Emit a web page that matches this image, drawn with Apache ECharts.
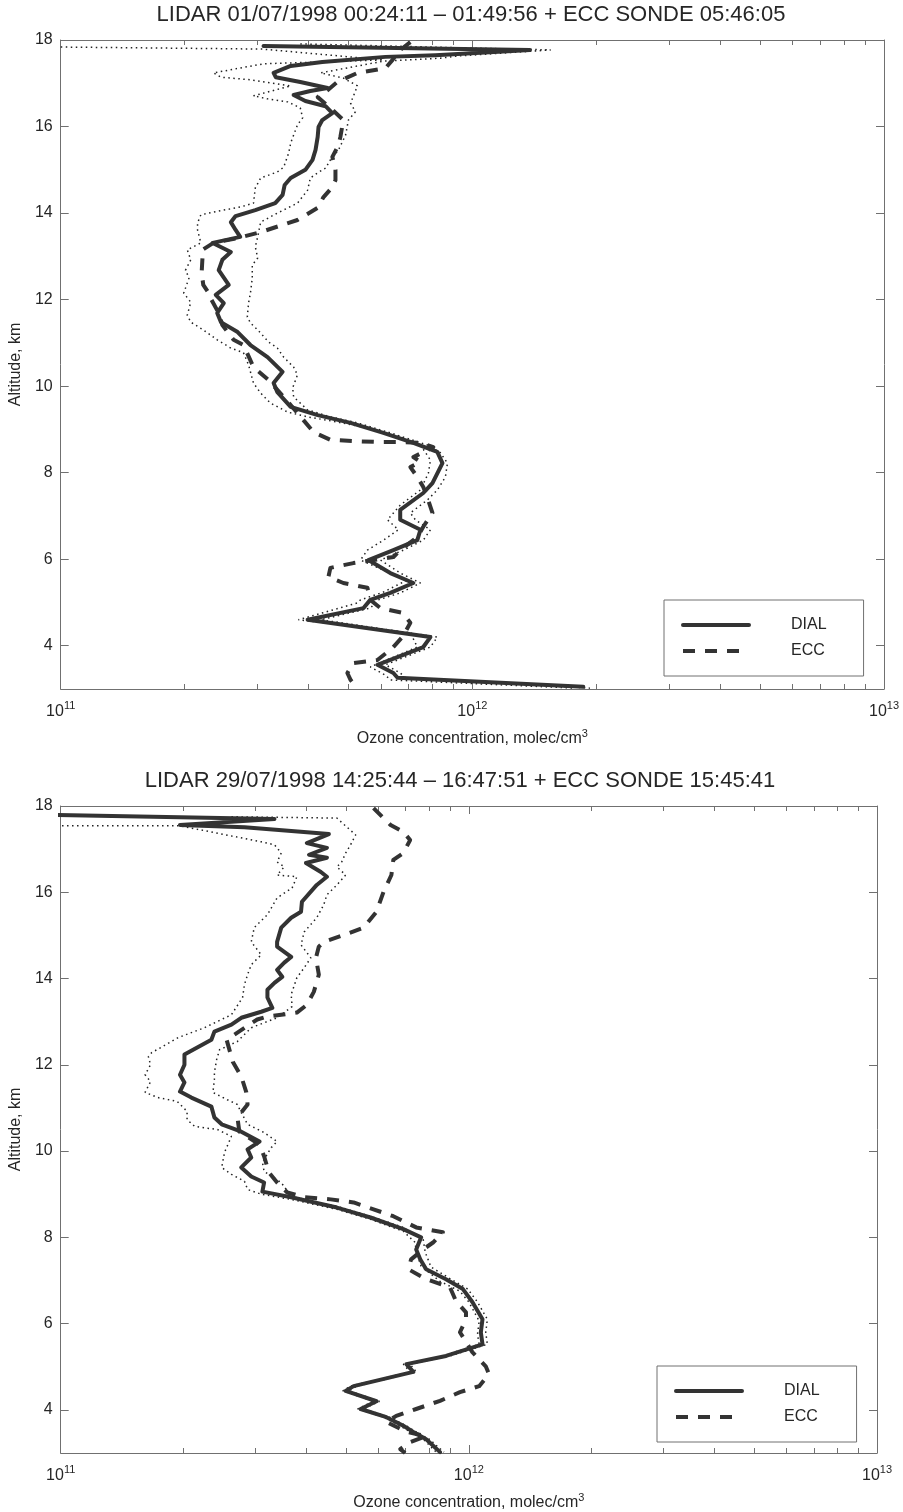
<!DOCTYPE html>
<html>
<head>
<meta charset="utf-8">
<title>Ozone profiles: DIAL lidar vs ECC sonde</title>
<script src="https://cdn.jsdelivr.net/npm/echarts@6/dist/echarts.min.js"></script>
<style>
  html, body { margin: 0; padding: 0; background: #ffffff; }
  #chart { width: 903px; height: 1512px; }
</style>
</head>
<body>
<div id="chart"></div>
<script>
// ---- text ----
const titles = [
  'LIDAR 01/07/1998 00:24:11 \u2013 01:49:56 + ECC SONDE 05:46:05',
  'LIDAR 29/07/1998 14:25:44 \u2013 16:47:51 + ECC SONDE 15:45:41'
];
const legendNames = ['DIAL', 'ECC'];
const altitudeTicks = [4, 6, 8, 10, 12, 14, 16, 18];
const decadeExponents = [11, 12];
const decadeMantissas = [2, 3, 4, 5, 6, 7, 8, 9];

// ---- profiles: [ozone concentration (molec/cm^3), altitude (km)] ----
// 01/07/1998
const dial1 = [[3.11e11,17.86],[1.38e12,17.77],[8.13e11,17.65],[6.15e11,17.61],[4.32e11,17.49],[3.62e11,17.40],[3.29e11,17.24],[3.33e11,17.14],[3.82e11,17.03],[4.45e11,16.89],[4.04e11,16.82],[3.68e11,16.73],[3.93e11,16.59],[4.40e11,16.47],[4.57e11,16.31],[4.32e11,16.15],[4.23e11,15.99],[4.21e11,15.76],[4.16e11,15.46],[4.09e11,15.23],[3.93e11,15.00],[3.62e11,14.81],[3.50e11,14.65],[3.46e11,14.42],[3.32e11,14.23],[2.97e11,14.07],[2.66e11,13.93],[2.59e11,13.79],[2.66e11,13.61],[2.73e11,13.45],[2.34e11,13.31],[2.59e11,13.10],[2.47e11,12.92],[2.42e11,12.68],[2.56e11,12.34],[2.38e11,12.11],[2.49e11,11.92],[2.40e11,11.69],[2.45e11,11.48],[2.69e11,11.25],[2.89e11,10.95],[3.18e11,10.67],[3.46e11,10.33],[3.29e11,10.07],[3.36e11,9.86],[3.62e11,9.52],[4.21e11,9.33],[5.06e11,9.15],[6.08e11,8.92],[7.19e11,8.69],[8.22e11,8.48],[8.46e11,8.22],[8.00e11,7.76],[7.60e11,7.53],[6.68e11,7.14],[6.68e11,6.91],[7.48e11,6.68],[7.35e11,6.44],[6.43e11,6.21],[5.59e11,5.98],[6.32e11,5.68],[7.19e11,5.45],[6.32e11,5.22],[5.65e11,5.06],[5.44e11,4.87],[3.98e11,4.60],[7.91e11,4.20],[7.60e11,3.97],[5.88e11,3.56],[6.43e11,3.37],[6.58e11,3.26],[1.86e12,3.05]];
const ecc1 = [[7.07e11,17.95],[6.68e11,17.77],[6.40e11,17.54],[6.15e11,17.35],[5.26e11,17.24],[4.70e11,17.03],[4.45e11,16.84],[4.21e11,16.68],[4.52e11,16.43],[4.86e11,16.15],[4.78e11,15.76],[4.73e11,15.57],[4.57e11,15.30],[4.65e11,15.00],[4.65e11,14.76],[4.57e11,14.60],[4.35e11,14.37],[4.21e11,14.12],[3.76e11,13.84],[3.06e11,13.56],[2.69e11,13.42],[2.35e11,13.31],[2.21e11,13.15],[2.21e11,12.96],[2.20e11,12.62],[2.22e11,12.34],[2.29e11,12.15],[2.31e11,12.04],[2.42e11,11.69],[2.47e11,11.41],[2.63e11,11.07],[2.78e11,10.95],[2.94e11,10.44],[3.20e11,10.14],[3.48e11,9.75],[3.76e11,9.38],[4.11e11,8.94],[4.52e11,8.76],[5.14e11,8.73],[5.88e11,8.71],[6.58e11,8.71],[7.48e11,8.69],[8.04e11,8.59],[7.19e11,8.36],[7.48e11,8.25],[7.07e11,8.13],[7.35e11,7.90],[7.60e11,7.67],[7.78e11,7.42],[8.00e11,7.07],[7.60e11,6.75],[7.35e11,6.51],[6.68e11,6.21],[6.43e11,6.05],[5.14e11,5.91],[4.52e11,5.80],[4.47e11,5.59],[4.86e11,5.45],[5.56e11,5.34],[5.65e11,5.06],[5.98e11,4.87],[6.76e11,4.76],[7.07e11,4.53],[6.76e11,4.20],[6.40e11,3.95],[5.88e11,3.67],[5.14e11,3.60],[4.97e11,3.37],[5.06e11,3.21],[5.26e11,3.02]];
const low1 = [[0.946e11,17.84],[3.09e11,17.79],[6.08e11,17.54],[3.11e11,17.45],[2.35e11,17.24],[2.45e11,17.14],[2.89e11,17.08],[3.62e11,16.94],[2.94e11,16.71],[3.18e11,16.64],[3.56e11,16.57],[3.82e11,16.43],[3.87e11,16.20],[3.76e11,16.04],[3.62e11,15.62],[3.58e11,15.39],[3.48e11,15.06],[3.36e11,14.95],[3.06e11,14.81],[2.97e11,14.58],[2.94e11,14.23],[2.73e11,14.14],[2.49e11,14.07],[2.19e11,13.96],[2.15e11,13.77],[2.15e11,13.61],[2.19e11,13.31],[2.03e11,13.15],[2.07e11,12.92],[2.01e11,12.68],[2.05e11,12.50],[1.99e11,12.15],[2.07e11,11.94],[2.03e11,11.64],[2.07e11,11.48],[2.22e11,11.30],[2.40e11,11.07],[2.59e11,10.88],[2.78e11,10.77],[2.86e11,10.49],[2.94e11,10.07],[3.06e11,9.84],[3.23e11,9.61],[3.56e11,9.40],[3.98e11,9.29],[4.70e11,9.17],[5.56e11,9.03],[6.68e11,8.83],[7.48e11,8.64],[7.91e11,8.29],[7.82e11,7.99],[7.48e11,7.60],[6.68e11,7.25],[6.22e11,6.91],[6.61e11,6.68],[6.08e11,6.44],[5.56e11,6.21],[5.35e11,5.98],[6.08e11,5.75],[6.95e11,5.52],[6.08e11,5.24],[5.35e11,5.06],[5.26e11,4.99],[3.78e11,4.60],[7.07e11,4.30],[7.35e11,3.97],[5.65e11,3.51],[6.15e11,3.32],[6.32e11,3.21],[1.78e12,3.02]];
const high1 = [[3.82e11,17.91],[1.55e12,17.77],[9.20e11,17.63],[8.36e11,17.58],[6.08e11,17.51],[4.28e11,17.24],[4.86e11,17.12],[5.26e11,16.94],[5.06e11,16.54],[5.20e11,16.34],[5.00e11,16.15],[4.92e11,15.80],[4.73e11,15.46],[4.52e11,15.23],[4.40e11,15.04],[4.21e11,14.93],[4.04e11,14.81],[3.98e11,14.53],[3.76e11,14.23],[3.36e11,14.00],[3.06e11,13.79],[3.01e11,13.45],[2.97e11,13.22],[3.01e11,12.96],[2.92e11,12.80],[2.92e11,12.50],[2.89e11,12.15],[2.86e11,11.92],[2.84e11,11.60],[2.89e11,11.46],[3.01e11,11.30],[3.20e11,11.02],[3.36e11,10.88],[3.48e11,10.67],[3.68e11,10.44],[3.76e11,10.26],[3.66e11,9.96],[3.68e11,9.75],[3.98e11,9.45],[4.52e11,9.29],[5.26e11,9.15],[6.32e11,8.92],[7.78e11,8.64],[8.36e11,8.46],[8.70e11,8.22],[8.60e11,7.90],[8.22e11,7.60],[7.78e11,7.37],[7.07e11,7.07],[7.27e11,6.91],[7.91e11,6.68],[7.60e11,6.44],[6.80e11,6.21],[5.98e11,5.98],[6.68e11,5.68],[7.48e11,5.45],[6.68e11,5.22],[5.91e11,5.06],[5.65e11,4.87],[4.28e11,4.60],[8.22e11,4.20],[7.91e11,3.97],[6.15e11,3.56],[6.68e11,3.37],[6.88e11,3.26],[1.93e12,3.02]];

// 29/07/1998
const dial2 = [[0.9e11,17.80],[3.34e11,17.70],[1.96e11,17.56],[2.82e11,17.51],[4.54e11,17.35],[4.01e11,17.14],[4.49e11,17.03],[4.06e11,16.87],[4.49e11,16.80],[3.99e11,16.68],[4.34e11,16.47],[4.49e11,16.36],[4.24e11,16.17],[3.90e11,15.78],[3.88e11,15.55],[3.67e11,15.41],[3.47e11,15.18],[3.39e11,14.85],[3.39e11,14.74],[3.53e11,14.62],[3.67e11,14.50],[3.53e11,14.37],[3.39e11,14.20],[3.49e11,14.04],[3.34e11,13.90],[3.21e11,13.74],[3.21e11,13.56],[3.30e11,13.32],[3.10e11,13.23],[2.77e11,13.09],[2.62e11,12.93],[2.38e11,12.77],[2.34e11,12.58],[2.01e11,12.24],[2.01e11,12.00],[1.96e11,11.77],[2.01e11,11.59],[1.96e11,11.38],[2.09e11,11.24],[2.34e11,11.03],[2.38e11,10.78],[2.48e11,10.62],[2.77e11,10.45],[3.07e11,10.22],[2.87e11,10.04],[2.93e11,9.85],[2.77e11,9.62],[2.93e11,9.41],[3.15e11,9.27],[3.12e11,9.06],[3.67e11,8.93],[4.75e11,8.69],[5.74e11,8.46],[6.91e11,8.19],[7.64e11,8.00],[7.43e11,7.72],[7.60e11,7.49],[7.86e11,7.26],[8.79e11,7.03],[9.67e11,6.80],[1.02e12,6.50],[1.08e12,6.10],[1.07e12,5.80],[1.08e12,5.52],[8.79e11,5.25],[7.03e11,5.06],[7.31e11,4.88],[5.22e11,4.55],[4.99e11,4.44],[5.94e11,4.20],[5.43e11,4.02],[6.28e11,3.83],[6.91e11,3.63],[7.31e11,3.49],[7.86e11,3.32],[8.50e11,3.02]];
const ecc2 = [[5.84e11,17.95],[6.43e11,17.56],[6.91e11,17.40],[7.18e11,17.21],[6.91e11,16.91],[6.53e11,16.75],[6.46e11,16.40],[6.18e11,16.01],[5.94e11,15.55],[5.52e11,15.18],[4.94e11,15.01],[4.41e11,14.85],[4.29e11,14.74],[4.22e11,14.48],[4.29e11,14.09],[4.17e11,13.69],[4.01e11,13.39],[3.79e11,13.21],[3.47e11,13.16],[3.21e11,13.12],[3.03e11,13.05],[2.55e11,12.58],[2.64e11,12.07],[2.77e11,11.73],[2.85e11,11.36],[2.87e11,11.08],[2.71e11,10.78],[2.74e11,10.45],[3.07e11,10.15],[3.15e11,9.88],[3.21e11,9.62],[3.24e11,9.50],[3.39e11,9.27],[3.59e11,9.04],[3.95e11,8.93],[4.59e11,8.88],[5.22e11,8.81],[5.84e11,8.65],[6.53e11,8.49],[7.43e11,8.23],[8.64e11,8.12],[8.17e11,7.88],[7.73e11,7.72],[7.22e11,7.49],[7.11e11,7.26],[7.86e11,7.03],[8.99e11,6.84],[9.30e11,6.52],[9.84e11,6.26],[9.84e11,6.10],[9.51e11,5.80],[9.67e11,5.69],[1.02e12,5.34],[1.10e12,5.01],[1.12e12,4.83],[1.06e12,4.55],[9.51e11,4.41],[8.50e11,4.21],[7.43e11,4.02],[6.64e11,3.86],[6.28e11,3.72],[7.03e11,3.49],[7.86e11,3.39],[7.18e11,3.25],[6.79e11,3.09],[6.98e11,3.00]];
const low2 = [[0.9e11,17.54],[1.96e11,17.54],[3.10e11,17.17],[3.34e11,17.10],[3.47e11,16.91],[3.39e11,16.70],[3.53e11,16.59],[3.39e11,16.40],[3.79e11,16.36],[3.69e11,16.10],[3.39e11,15.87],[3.21e11,15.48],[2.98e11,15.18],[2.93e11,14.85],[3.10e11,14.55],[2.93e11,14.32],[2.87e11,14.09],[2.82e11,13.86],[2.79e11,13.56],[2.62e11,13.16],[2.25e11,12.86],[1.94e11,12.63],[1.67e11,12.28],[1.64e11,12.19],[1.66e11,12.00],[1.61e11,11.77],[1.66e11,11.61],[1.61e11,11.36],[1.73e11,11.24],[1.93e11,11.15],[2.04e11,10.92],[2.04e11,10.73],[2.13e11,10.57],[2.42e11,10.50],[2.62e11,10.34],[2.52e11,9.97],[2.48e11,9.62],[2.62e11,9.46],[2.82e11,9.30],[2.87e11,9.11],[3.10e11,9.00],[3.67e11,8.88],[4.75e11,8.65],[5.74e11,8.42],[6.91e11,8.14],[7.39e11,7.88],[7.43e11,7.65],[7.64e11,7.33],[8.50e11,6.98],[9.51e11,6.75],[1.00e12,6.50],[1.06e12,6.06],[1.05e12,5.75],[1.06e12,5.52],[8.64e11,5.25],[6.91e11,5.06],[7.18e11,4.88],[5.13e11,4.55],[4.91e11,4.44],[5.84e11,4.20],[5.34e11,4.02],[6.18e11,3.83],[6.79e11,3.63],[7.18e11,3.49],[7.73e11,3.32],[8.32e11,3.02]];
const high2 = [[2.62e11,17.75],[4.75e11,17.72],[5.28e11,17.33],[5.13e11,17.10],[4.99e11,16.91],[4.88e11,16.70],[4.75e11,16.59],[4.99e11,16.40],[4.75e11,16.17],[4.49e11,15.94],[4.41e11,15.71],[4.24e11,15.41],[3.95e11,15.08],[3.88e11,14.78],[4.10e11,14.48],[3.95e11,14.25],[3.79e11,14.02],[3.67e11,13.63],[3.69e11,13.35],[3.39e11,13.09],[2.93e11,12.86],[2.71e11,12.54],[2.45e11,12.35],[2.41e11,12.12],[2.38e11,11.82],[2.38e11,11.66],[2.36e11,11.36],[2.56e11,11.19],[2.71e11,11.08],[2.77e11,10.89],[2.87e11,10.62],[3.15e11,10.43],[3.39e11,10.22],[3.28e11,10.08],[3.12e11,9.74],[3.15e11,9.53],[3.47e11,9.27],[3.67e11,8.95],[4.75e11,8.72],[5.74e11,8.49],[6.91e11,8.23],[7.73e11,7.95],[7.82e11,7.65],[8.08e11,7.31],[9.04e11,7.03],[9.94e11,6.80],[1.05e12,6.50],[1.11e12,6.10],[1.10e12,5.80],[1.11e12,5.52],[8.99e11,5.25],[7.18e11,5.06],[7.43e11,4.88],[5.31e11,4.55],[5.08e11,4.44],[6.04e11,4.20],[5.52e11,4.02],[6.39e11,3.83],[7.03e11,3.63],[7.43e11,3.49],[8.00e11,3.32],[8.69e11,3.02]];

// ---- styling ----
const FONT = '"Liberation Sans", Arial, Helvetica, sans-serif';
const INK = '#262626';
const PEN = '#333333';
const FRAME = '#707070';

// minor ticks of the logarithmic concentration axis, in decades
const minorTickExps = [];
decadeExponents.forEach(n => decadeMantissas.forEach(m => minorTickExps.push(n + Math.log10(m))));

const panels = [
  { grid: { left: 60, top: 40, width: 824, height: 649 }, titleX: 471, titleY: 4,
    legend: { left: 664, top: 600 }, dial: dial1, ecc: ecc1, low: low1, high: high1, title: titles[0] },
  { grid: { left: 55, top: 806, width: 822, height: 648 }, titleX: 460, titleY: 770,
    legend: { left: 657, top: 1366 }, dial: dial2, ecc: ecc2, low: low2, high: high2, title: titles[1] }
];

const grids = [], xAxes = [], yAxes = [], series = [], legends = [], titleComps = [];

const frameLine = { show: true, onZero: false, lineStyle: { color: FRAME, width: 1 } };

panels.forEach((p, g) => {
  grids.push(Object.assign({ containLabel: false }, p.grid));
  titleComps.push({
    text: p.title, left: p.titleX, top: p.titleY, textAlign: 'center', padding: 0,
    textStyle: { fontFamily: FONT, fontSize: 22, fontWeight: 'normal', color: INK }
  });

  const xBase = g * 4;
  // bottom: decades with labels
  xAxes.push({
    gridIndex: g, type: 'log', logBase: 10, min: 1e11, max: 1e13, position: 'bottom',
    axisLine: frameLine,
    axisTick: { show: true, inside: true, length: 8, lineStyle: { color: FRAME } },
    splitLine: { show: false },
    axisLabel: {
      margin: 11, color: INK, fontFamily: FONT,
      formatter: v => '{b|10}{e|' + Math.round(Math.log10(v)) + '}',
      rich: {
        b: { fontSize: 16, fontFamily: FONT, color: INK },
        e: { fontSize: 11, fontFamily: FONT, color: INK, padding: [0, 0, 12, 0] }
      }
    },
    name: '{n|Ozone concentration, molec/cm}{s|3}', nameLocation: 'middle', nameGap: 39,
    nameTextStyle: {
      rich: {
        n: { fontSize: 16, fontFamily: FONT, color: INK },
        s: { fontSize: 11, fontFamily: FONT, color: INK, padding: [0, 0, 11, 0] }
      }
    }
  });
  // bottom: minor ticks
  xAxes.push({
    gridIndex: g, type: 'value', min: 11, max: 13, position: 'bottom',
    axisLine: { show: false, onZero: false },
    axisTick: { show: true, inside: true, length: 5, customValues: minorTickExps, lineStyle: { color: FRAME } },
    axisLabel: { show: false }, splitLine: { show: false }
  });
  // top: decades
  xAxes.push({
    gridIndex: g, type: 'log', logBase: 10, min: 1e11, max: 1e13, position: 'top',
    axisLine: frameLine,
    axisTick: { show: true, inside: true, length: 8, lineStyle: { color: FRAME } },
    axisLabel: { show: false }, splitLine: { show: false }
  });
  // top: minor ticks
  xAxes.push({
    gridIndex: g, type: 'value', min: 11, max: 13, position: 'top',
    axisLine: { show: false, onZero: false },
    axisTick: { show: true, inside: true, length: 5, customValues: minorTickExps, lineStyle: { color: FRAME } },
    axisLabel: { show: false }, splitLine: { show: false }
  });

  const yBase = g * 2;
  yAxes.push({
    gridIndex: g, type: 'value', min: 3, max: 18, position: 'left',
    axisLine: frameLine,
    axisTick: { show: true, inside: true, length: 8, customValues: altitudeTicks, lineStyle: { color: FRAME } },
    axisLabel: { customValues: altitudeTicks, margin: 8, fontSize: 16, fontFamily: FONT, color: INK },
    splitLine: { show: false },
    name: 'Altitude, km', nameLocation: 'middle', nameGap: 32,
    nameTextStyle: { fontSize: 16, fontFamily: FONT, color: INK }
  });
  yAxes.push({
    gridIndex: g, type: 'value', min: 3, max: 18, position: 'right',
    axisLine: frameLine,
    axisTick: { show: true, inside: true, length: 8, customValues: altitudeTicks, lineStyle: { color: FRAME } },
    axisLabel: { show: false }, splitLine: { show: false }
  });

  const common = { type: 'line', xAxisIndex: xBase, yAxisIndex: yBase, symbol: 'none',
                   silent: true, animation: false, clip: true };
  const dotted = { color: '#222222', width: 1.5, type: [1.5, 3.5], cap: 'butt' };
  series.push(Object.assign({ name: 'DIAL lower bound ' + (g + 1), data: p.low, lineStyle: dotted }, common));
  series.push(Object.assign({ name: 'DIAL upper bound ' + (g + 1), data: p.high, lineStyle: dotted }, common));
  series.push(Object.assign({ name: legendNames[1], data: p.ecc,
    lineStyle: { color: PEN, width: 4, type: [12, 10], cap: 'butt', join: 'round' } }, common));
  series.push(Object.assign({ name: legendNames[0], data: p.dial,
    lineStyle: { color: PEN, width: 4, type: 'solid', cap: 'round', join: 'round' } }, common));

  legends.push({
    data: legendNames, orient: 'vertical', left: p.legend.left, top: p.legend.top,
    itemWidth: 66, itemHeight: 14, itemGap: 10,
    padding: [17, 37, 17, 17],
    borderColor: FRAME, borderWidth: 1, backgroundColor: '#ffffff',
    selectedMode: false,
    itemStyle: { opacity: 0 },
    lineStyle: { width: 4 },
    textStyle: { fontSize: 16, fontFamily: FONT, color: INK, padding: [0, 0, 0, 37] }
  });
});

const chart = echarts.init(document.getElementById('chart'), null, { renderer: 'canvas' });
chart.setOption({
  backgroundColor: '#ffffff',
  animation: false,
  title: titleComps,
  legend: legends,
  grid: grids,
  xAxis: xAxes,
  yAxis: yAxes,
  series: series
});
</script>
</body>
</html>
